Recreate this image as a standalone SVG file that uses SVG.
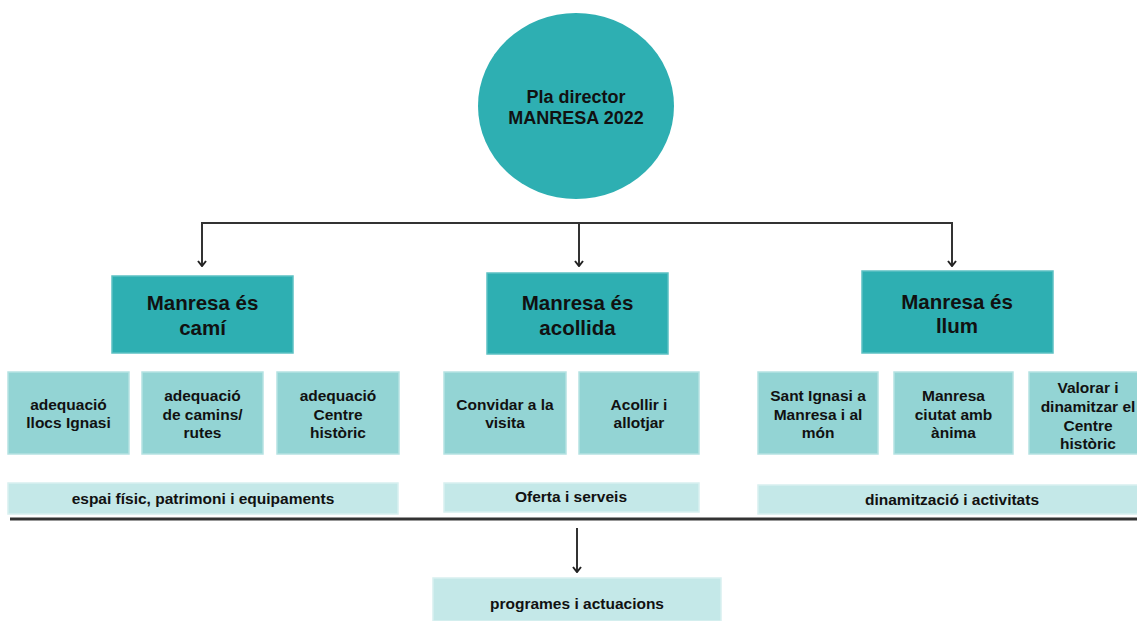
<svg xmlns="http://www.w3.org/2000/svg" width="1137" height="621" viewBox="0 0 1137 621">
<style>
text{font-family:"Liberation Sans",Arial,sans-serif;font-weight:bold;fill:#111;text-anchor:middle;dominant-baseline:central}
.main{fill:#2eafb2;stroke:#5cc1c3;stroke-width:1.5}
.sub{fill:#93d4d4;stroke:#b5e2e2;stroke-width:1.5}
.bar{fill:#c4e8e8;stroke:#d8f0f0;stroke-width:1.5}
.t1{font-size:18px}
.t2{font-size:20.5px}
.t3{font-size:15.5px}
.conn{fill:none;stroke:#333;stroke-width:2}
</style>
<defs>
<marker id="arr" viewBox="0 0 10 10" refX="9" refY="5" markerWidth="10" markerHeight="10" markerUnits="userSpaceOnUse" orient="auto">
<path d="M4,1 L9,5 L4,9" fill="none" stroke="#222" stroke-width="2"/>
</marker>
</defs>
<rect width="1137" height="621" fill="#fff"/>
<g id="connectors">
<path class="conn" d="M202,223 H952"/>
<path class="conn" d="M202,222 V266" marker-end="url(#arr)"/>
<path class="conn" d="M579,223 V266" marker-end="url(#arr)"/>
<path class="conn" d="M952,222 V266" marker-end="url(#arr)"/>
<path class="conn" d="M577,528 V572" marker-end="url(#arr)"/>
<line x1="10" y1="519" x2="1137" y2="519" stroke="#333" stroke-width="3"/>
</g>
<g id="root">
<ellipse cx="576" cy="106" rx="98" ry="93" fill="#2eafb2"/>
<text class="t1" x="576" y="97">Pla director</text>
<text class="t1" x="576" y="118">MANRESA 2022</text>
</g>
<g id="cami">
<rect class="main" x="112" y="276" width="181" height="77"/>
<text class="t2" x="202.5" y="302">Manresa és</text>
<text class="t2" x="202.5" y="327">camí</text>
</g>
<g id="acollida">
<rect class="main" x="487" y="273" width="181" height="81"/>
<text class="t2" x="577.5" y="302">Manresa és</text>
<text class="t2" x="577.5" y="327">acollida</text>
</g>
<g id="llum">
<rect class="main" x="862" y="271" width="191" height="82"/>
<text class="t2" x="957" y="301">Manresa és</text>
<text class="t2" x="957" y="325">llum</text>
</g>
<g id="llocs">
<rect class="sub" x="8" y="372" width="121" height="82"/>
<text class="t3" x="68.5" y="404">adequació</text>
<text class="t3" x="68.5" y="422">llocs Ignasi</text>
</g>
<g id="camins">
<rect class="sub" x="142" y="372" width="121" height="82"/>
<text class="t3" x="202.5" y="395">adequació</text>
<text class="t3" x="202.5" y="414">de camins/</text>
<text class="t3" x="202.5" y="432">rutes</text>
</g>
<g id="centre">
<rect class="sub" x="277" y="372" width="122" height="82"/>
<text class="t3" x="338" y="395">adequació</text>
<text class="t3" x="338" y="414">Centre</text>
<text class="t3" x="338" y="432">històric</text>
</g>
<g id="convidar">
<rect class="sub" x="444" y="372" width="122" height="82"/>
<text class="t3" x="505" y="404">Convidar a la</text>
<text class="t3" x="505" y="422">visita</text>
</g>
<g id="acollir">
<rect class="sub" x="579" y="372" width="120" height="82"/>
<text class="t3" x="639" y="404">Acollir i</text>
<text class="t3" x="639" y="422">allotjar</text>
</g>
<g id="santignasi">
<rect class="sub" x="758" y="372" width="120" height="82"/>
<text class="t3" x="818" y="395">Sant Ignasi a</text>
<text class="t3" x="818" y="414">Manresa i al</text>
<text class="t3" x="818" y="432">món</text>
</g>
<g id="anima">
<rect class="sub" x="894" y="372" width="119" height="82"/>
<text class="t3" x="953.5" y="395">Manresa</text>
<text class="t3" x="953.5" y="414">ciutat amb</text>
<text class="t3" x="953.5" y="432">ànima</text>
</g>
<g id="valorar">
<rect class="sub" x="1029" y="372" width="120" height="82"/>
<text class="t3" x="1088" y="387">Valorar i</text>
<text class="t3" x="1088" y="406">dinamitzar el</text>
<text class="t3" x="1088" y="425">Centre</text>
<text class="t3" x="1088" y="443">històric</text>
</g>
<g id="espai">
<rect class="bar" x="8" y="483" width="390" height="31"/>
<text class="t3" x="203" y="498">espai físic, patrimoni i equipaments</text>
</g>
<g id="oferta">
<rect class="bar" x="444" y="483" width="255" height="29"/>
<text class="t3" x="571" y="496">Oferta i serveis</text>
</g>
<g id="dinamitzacio">
<rect class="bar" x="758" y="485" width="390" height="29"/>
<text class="t3" x="952" y="499">dinamització i activitats</text>
</g>
<g id="programes">
<rect class="bar" x="433" y="578" width="288" height="43"/>
<text class="t3" x="577" y="603">programes i actuacions</text>
</g>
</svg>
